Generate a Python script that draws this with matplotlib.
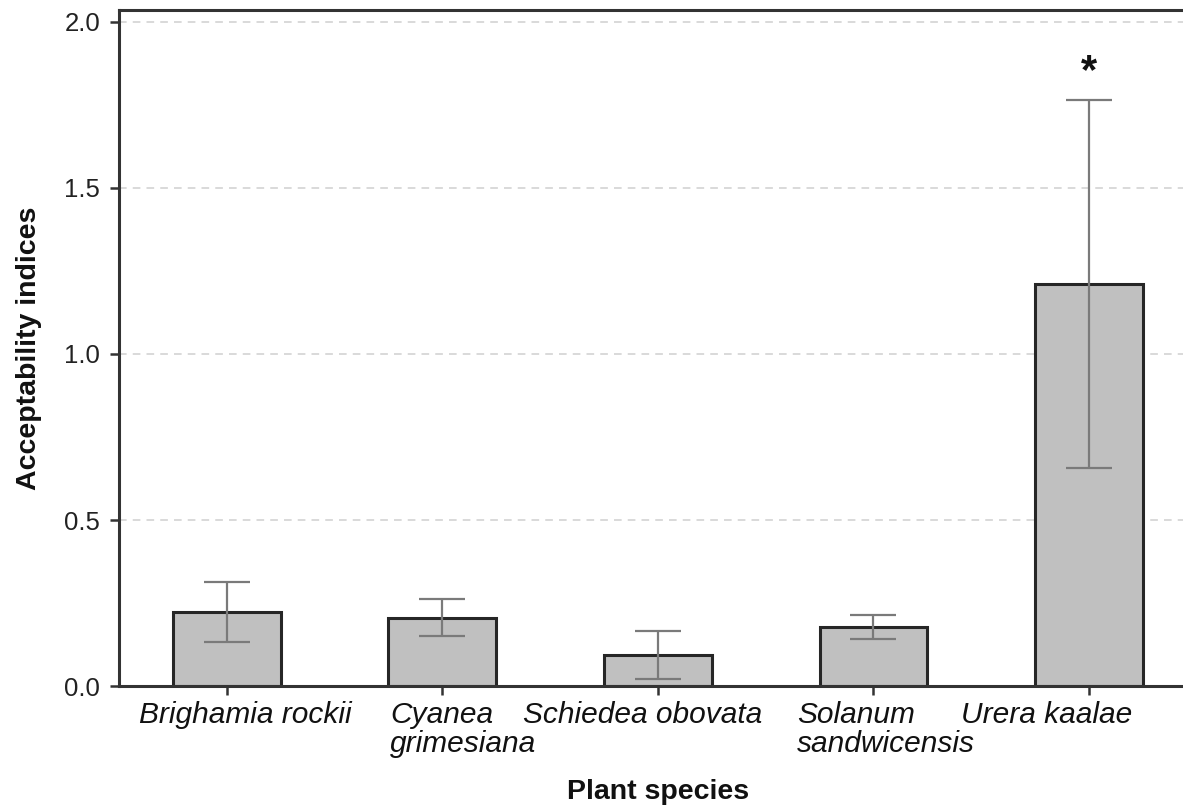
import numpy as np
import matplotlib.pyplot as plt
import matplotlib.transforms as mtransforms

# Data
species = ["Brighamia rockii", "Cyanea\ngrimesiana", "Schiedea obovata",
           "Solanum\nsandwicensis", "Urera kaalae"]
means = [0.224, 0.206, 0.093, 0.178, 1.21]
err_low = [0.090, 0.054, 0.072, 0.037, 0.552]
err_high = [0.088, 0.057, 0.073, 0.036, 0.555]
significant = [False, False, False, False, True]
yticks = [0.0, 0.5, 1.0, 1.5, 2.0]

# label nudges (px) to follow the hand placed labels of the original
label_shift_px = [19, 21, -15, 13, -42]

plt.rcParams['font.family'] = ['Liberation Sans', 'DejaVu Sans']

fig = plt.figure(figsize=(11.83, 8.07), dpi=100)
ax = fig.add_axes([0.1006, 0.1499, 0.911, 0.8377])

x = np.arange(len(species))
ax.bar(x, means, width=0.5, color='#c0c0c0', edgecolor='#262626',
       linewidth=2.2, zorder=2)
ax.errorbar(x, means, yerr=[err_low, err_high], fmt='none', ecolor='#7a7a7a',
            elinewidth=1.6, capsize=16.5, capthick=1.6, zorder=3)

for xi, m, e, sig in zip(x, means, err_high, significant):
    if sig:
        ax.annotate('*', xy=(xi, m + e), xytext=(0, 6), textcoords='offset points',
                    ha='center', va='bottom', fontsize=30, fontweight='bold',
                    color='#111111')

ax.set_xlim(-0.5, 4.5)
ax.set_ylim(0, 2.036)
ax.set_yticks(yticks)
ax.set_yticklabels([f"{v:.1f}" for v in yticks], fontsize=18.5, color='#222222')
ax.set_xticks(x)
ax.set_xticklabels([])

# species names drawn as text so each one can be nudged like the original
for xi, name, dx in zip(x, species, label_shift_px):
    off = mtransforms.ScaledTranslation(dx / 100, -15 / 100, fig.dpi_scale_trans)
    ax.text(xi, 0, name, transform=ax.get_xaxis_transform() + off,
            ha='center', va='top', multialignment='left', linespacing=1.05,
            fontsize=21.5, fontstyle='italic', color='#111111', clip_on=False)

ax.tick_params(axis='both', direction='out', length=6.5, width=1.8,
               color='#333333')
ax.tick_params(axis='y', pad=7)

for s in ['left', 'bottom', 'top', 'right']:
    ax.spines[s].set_linewidth(2.2)
    ax.spines[s].set_color('#333333')

ax.yaxis.grid(True, linestyle=(0, (5, 4)), color='#cfcfcf', linewidth=1.1, zorder=0)
ax.set_axisbelow(True)
# hide the grid line on the baseline
ax.get_ygridlines()[0].set_visible(False)

ax.set_xlabel("Plant species", fontsize=20.5, fontweight='bold', labelpad=57,
              color='#111111')
ax.set_ylabel("Acceptability indices", fontsize=20.5, fontweight='bold',
              labelpad=16, color='#111111')

fig.savefig("out.png", dpi=100)
